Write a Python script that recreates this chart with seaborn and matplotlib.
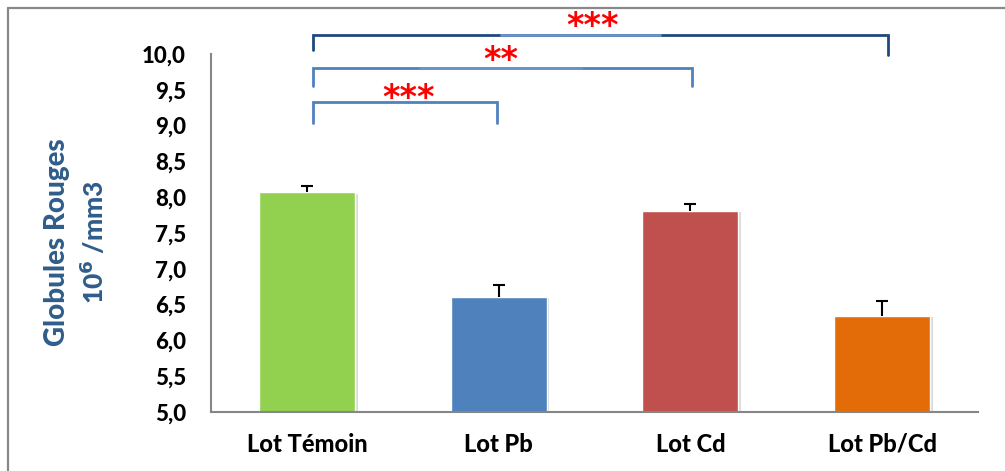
import matplotlib
matplotlib.use("Agg")
import matplotlib.pyplot as plt
import matplotlib.patheffects as pe
from matplotlib.lines import Line2D
import seaborn as sns
import pandas as pd

# Red blood cell counts per group (10^6 / mm3)
groups = ["Lot Témoin", "Lot Pb", "Lot Cd", "Lot Pb/Cd"]
means = [8.07, 6.61, 7.81, 6.34]
errors = [0.08, 0.17, 0.09, 0.21]
colors = ["#92D050", "#4F81BD", "#C0504D", "#E36C09"]
y_ticks = [5.0, 5.5, 6.0, 6.5, 7.0, 7.5, 8.0, 8.5, 9.0, 9.5, 10.0]

# Significance comparisons against the control group: (target index, stars)
comparisons = [(1, "***"), (2, "**"), (3, "***")]

sns.set_theme(style="white")
plt.rcParams["font.family"] = ["Lato", "DejaVu Sans"]

df = pd.DataFrame({"group": groups, "value": means})

fig = plt.figure(figsize=(10.05, 4.71), dpi=100)
ax = fig.add_axes([0.21, 0.1253, 0.7632, 0.836])

sns.barplot(data=df, x="group", y="value", hue="group", palette=colors,
            width=0.5, legend=False, ax=ax, saturation=1)
for p in ax.patches:
    p.set_edgecolor("white")
    p.set_linewidth(1.0)
    p.set_path_effects([pe.SimplePatchShadow(offset=(2, -1), shadow_rgbFace="#9a9a9a", alpha=0.35),
                        pe.Normal()])

# upper-only error bars (lower cap hidden)
x = list(range(len(groups)))
_, caps, _ = ax.errorbar(x, means, yerr=[[0] * len(errors), errors], fmt="none",
                         ecolor="black", elinewidth=1.5, capsize=4, capthick=1.5, zorder=3)
caps[0].set_visible(False)

ax.set_ylim(5, 10.5)
ax.set_xlim(-0.5, 3.5)
ax.set_yticks(y_ticks)
ax.set_yticklabels([f"{v:.1f}".replace(".", ",") for v in y_ticks],
                   fontsize=16, fontweight="black", color="black")
ax.set_xticks(x)
ax.set_xticklabels(groups, fontsize=17, fontweight="black", color="black")
ax.tick_params(axis="y", length=0, pad=18)
ax.tick_params(axis="x", length=0, pad=15)
ax.set_xlabel("")
ax.set_ylabel("")

for side in ["top", "right"]:
    ax.spines[side].set_visible(False)
for side in ["left", "bottom"]:
    ax.spines[side].set_color("#868686")
    ax.spines[side].set_linewidth(1.5)
ax.spines["left"].set_bounds(5, 10)

# significance brackets
bracket_specs = [
    # (x_left, x_right, y_bar, y_left_end, y_right_end, color, light segment, star_x, star_y)
    (0.03, 0.99, 9.33, 9.04, 9.04, "#4F81BD", None, 0.53, 9.38),
    (0.03, 2.01, 9.80, 9.55, 9.55, "#4F81BD", (0.59, 1.43), 1.01, 9.91),
    (0.03, 3.03, 10.27, 10.06, 9.99, "#1F497D", (1.01, 1.84), 1.49, 10.39),
]
for (xl, xr, yb, yle, yre, col, seg, sx, sy), (_, stars) in zip(bracket_specs, comparisons):
    ax.plot([xl, xl, xr, xr], [yle, yb, yb, yre], color=col, lw=2,
            solid_joinstyle="miter", clip_on=False, zorder=4)
    if seg is not None:
        ax.plot(list(seg), [yb, yb], color="#6A93C6", lw=2, clip_on=False, zorder=4)
    ax.text(sx, sy, stars, color="#FF0000", fontsize=24, fontweight="bold",
            ha="center", va="center", family="DejaVu Sans", clip_on=False, zorder=5)

# y-axis title on two lines
fig.text(57 / 1005, 1 - 242 / 471, "Globules Rouges", rotation=90, ha="center", va="center",
         fontsize=20, fontweight="black", color="#2F5D8A")
fig.text(93 / 1005, 1 - 242 / 471, r"10$^{\mathbf{6}}$ /mm3", rotation=90, ha="center", va="center",
         fontsize=19, fontweight="black", color="#2F5D8A")

# outer frame lines
W, H = 1005, 471
fig.add_artist(Line2D([8 / W, 1], [1 - 8 / H, 1 - 8 / H], color="#888888", lw=1.6,
                      transform=fig.transFigure))
fig.add_artist(Line2D([8 / W, 8 / W], [0, 1 - 8 / H], color="#888888", lw=1.6,
                      transform=fig.transFigure))

fig.savefig("out.png", dpi=100)
